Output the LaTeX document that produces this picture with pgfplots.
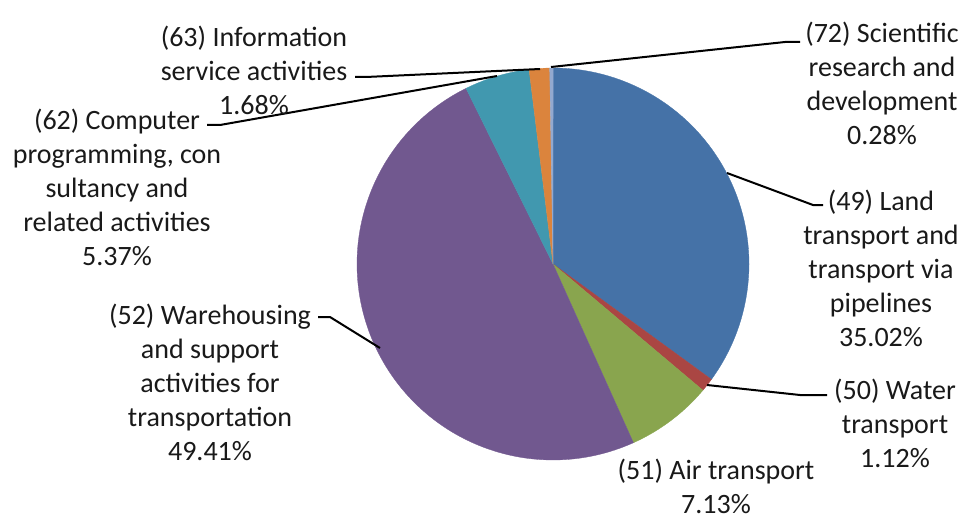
\documentclass[border=0pt]{standalone}
\usepackage{fontspec}
\setmainfont{Carlito}
\usepackage{pgfplots}
\pgfplotsset{compat=1.18}
\definecolor{cLand}{HTML}{4572A7}
\definecolor{cWater}{HTML}{AA4643}
\definecolor{cAir}{HTML}{89A54E}
\definecolor{cWare}{HTML}{71588F}
\definecolor{cComp}{HTML}{4198AF}
\definecolor{cInfo}{HTML}{DB843D}
\definecolor{cSci}{HTML}{93A9CF}
\newcommand\cum{0}
% #1 share in percent, #2 colour
\newcommand\pieslice[2]{%
  \pgfmathsetmacro\angA{90-3.6*\cum}%
  \pgfmathsetmacro\newcum{\cum+#1}%
  \pgfmathsetmacro\angB{90-3.6*\newcum}%
  \xdef\cum{\newcum}%
  \edef\temp{\noexpand\addplot[fill=#2, draw=#2, line width=0.3pt, domain=\angB:\angA, samples=120] ({553+196*cos(x)},{264-196*sin(x)}) -- (553,264) -- cycle;}%
  \temp}
\tikzset{lbl/.style={align=center, font=\fontsize{28}{34}\selectfont, inner sep=0pt, text=black!90}}
\begin{document}
\begin{tikzpicture}
\useasboundingbox (0,0) rectangle (963pt,516pt);
\begin{axis}[at={(0,0)}, anchor=south west, scale only axis, width=963pt, height=516pt,
  xmin=0, xmax=963, ymin=0, ymax=516, y dir=reverse, hide axis, clip=false]
\pieslice{35.02}{cLand}
\pieslice{1.12}{cWater}
\pieslice{7.13}{cAir}
\pieslice{49.41}{cWare}
\pieslice{5.37}{cComp}
\pieslice{1.68}{cInfo}
\pieslice{0.28}{cSci}
% leader lines
\addplot[black, line width=2pt] coordinates {(551,67) (785,42) (800,42)};
\addplot[black, line width=2pt] coordinates {(727,173) (813,205) (823,205)};
\addplot[black, line width=2pt] coordinates {(707,385) (800,395) (827,395)};
\addplot[black, line width=2pt] coordinates {(380,348) (330,317) (318,317)};
\addplot[black, line width=2pt] coordinates {(497,76) (220,125) (207,125)};
\addplot[black, line width=2pt] coordinates {(540,69) (366,77) (355,77)};
% labels
\node[lbl] at (axis cs:882,83) {(72) Scientific\\research and\\development\\0.28\%};
\node[lbl] at (axis cs:881,268) {(49) Land\\transport and\\transport via\\pipelines\\35.02\%};
\node[lbl] at (axis cs:895,423) {(50) Water\\transport\\1.12\%};
\node[lbl] at (axis cs:716,486) {(51) Air transport\\7.13\%};
\node[lbl] at (axis cs:210,382) {(52) Warehousing\\and support\\activities for\\transportation\\49.41\%};
\node[lbl] at (axis cs:117,187) {(62) Computer\\programming, con\\sultancy and\\related activities\\5.37\%};
\node[lbl] at (axis cs:254,70) {(63) Information\\service activities\\1.68\%};
\end{axis}
\end{tikzpicture}
\end{document}
